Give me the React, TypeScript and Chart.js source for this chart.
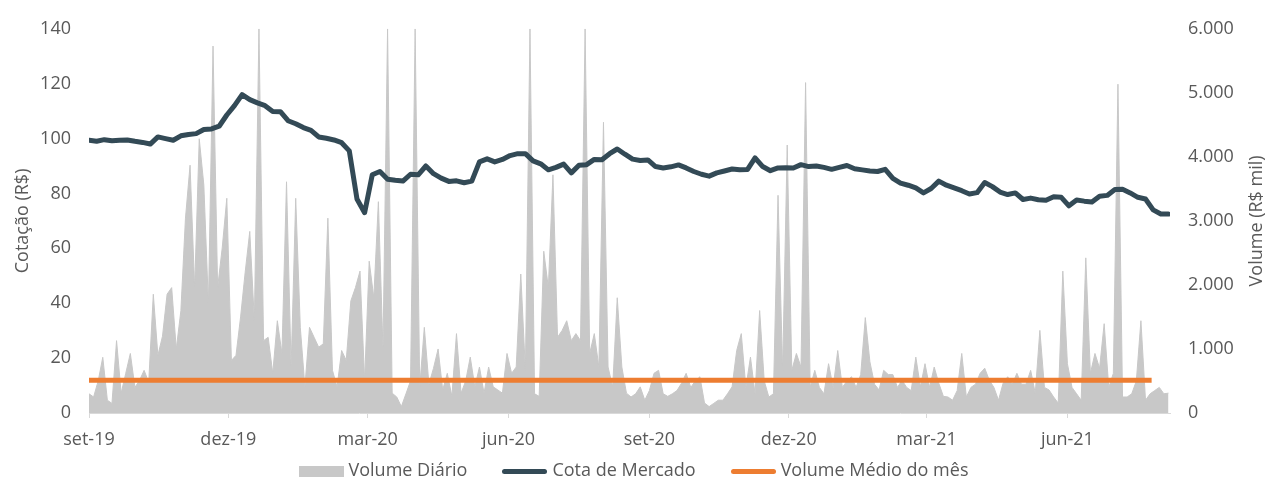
import React, { useEffect, useRef } from 'react';
import { Chart, registerables } from 'chart.js';

Chart.register(...registerables);

// ---------- DATA ----------
const START_UTC = Date.UTC(2019, 8, 1); // 1 set 2019
const DAY_MS = 86400000;

const TICK_MONTHS: [number, number][] = [
  [2019, 8], [2019, 11], [2020, 2], [2020, 5], [2020, 8], [2020, 11], [2021, 2], [2021, 5],
];
const TICK_LABELS = ['set-19', 'dez-19', 'mar-20', 'jun-20', 'set-20', 'dez-20', 'mar-21', 'jun-21'];

const LABEL_VOLUME = 'Volume Diário';
const LABEL_PRICE = 'Cota de Mercado';
const LABEL_AVG = 'Volume Médio do mês';

// Cotação (R$), one reading every 5 calendar days from 2 set 2019
const PRICE_STEP_DAYS = 5;
const PRICE = [
  99.4, 99.0, 99.6, 99.2, 99.4, 99.5, 99.0, 98.6, 98.0, 100.6,
  100.0, 99.4, 101.0, 101.5, 101.8, 103.3, 103.5, 104.5, 108.6, 112.0,
  116.0, 114.2, 113.0, 112.0, 109.9, 109.8, 106.5, 105.4, 104.0, 103.0,
  100.6, 100.1, 99.5, 98.5, 95.5, 78.0, 73.0, 86.8, 88.0, 85.2,
  84.8, 84.5, 87.0, 86.8, 90.0, 87.2, 85.6, 84.4, 84.6, 83.9,
  84.5, 91.5, 92.6, 91.5, 92.4, 93.8, 94.5, 94.5, 91.9, 90.8,
  88.6, 89.5, 90.7, 87.5, 90.3, 90.5, 92.4, 92.3, 94.5, 96.2,
  94.3, 92.5, 92.0, 92.2, 89.8, 89.3, 89.7, 90.4, 89.3, 88.0,
  87.0, 86.3, 87.5, 88.2, 88.9, 88.6, 88.7, 93.0, 89.8, 88.3,
  89.3, 89.4, 89.3, 90.5, 89.8, 90.0, 89.5, 88.8, 89.5, 90.2,
  89.0, 88.6, 88.2, 88.0, 88.8, 85.5, 83.8, 83.0, 82.0, 80.2,
  81.8, 84.5, 83.0, 82.0, 81.0, 79.8, 80.3, 84.0, 82.5, 80.5,
  79.6, 80.2, 77.8, 78.3, 77.7, 77.5, 78.8, 78.6, 75.5, 77.6,
  77.2, 76.9, 79.0, 79.3, 81.4, 81.5, 80.2, 78.6, 78.0, 74.0,
  72.5, 72.5,
];

// Volume diário (R$ mil), one reading every 3 calendar days from 2 set 2019
const VOLUME_STEP_DAYS = 3;
const VOLUME = [
  300, 250, 500, 870, 200, 150, 1130, 310, 620, 930,
  400, 510, 666, 480, 1855, 900, 1200, 1855, 1958, 1000,
  1596, 3043, 3870, 1958, 4283, 3560, 1700, 5730, 1958, 2578,
  3353, 821, 900, 1500, 2200, 2836, 1441, 6000, 1130, 1183,
  620, 1441, 930, 3611, 718, 3353, 1338, 408, 1338, 1183,
  1028, 1080, 3043, 666, 408, 976, 821, 1751, 1958, 2216,
  511, 2371, 1800, 3300, 1000, 6000, 310, 250, 100, 300,
  500, 6000, 408, 1338, 450, 700, 1000, 360, 620, 260,
  1240, 310, 500, 873, 408, 718, 310, 718, 408, 360,
  310, 930, 620, 718, 2170, 666, 6000, 300, 260, 2526,
  1958, 3720, 1183, 1290, 1441, 1130, 1240, 1130, 6000, 930,
  1240, 718, 4540, 718, 408, 1800, 718, 310,
  250, 300, 408, 200, 350, 620, 666, 300, 260, 300,
  350, 465, 620, 400, 500, 566, 155, 100, 150, 200,
  200, 300, 408, 976, 1240, 400, 873, 300, 1600, 500,
  250, 300, 3400, 666, 4185, 666, 930, 718, 5160, 400,
  666, 400, 300, 770, 400, 976, 400, 500, 566, 400,
  600, 1490, 800, 450, 360, 666, 600, 600, 400,
  511, 400, 350, 873, 408, 770, 400, 718, 465, 260,
  250, 200, 350, 930, 250, 400, 450, 620, 700, 511,
  400, 200, 465, 566, 450, 620, 450, 450, 666, 310,
  1290, 400, 360, 250, 155, 2216, 770, 400, 300, 200,
  2423, 620, 930, 700, 1395, 400, 620, 5135, 250, 250,
  300, 500, 1441, 200, 300, 350, 400, 300, 310,
];

// Volume médio do mês (R$ mil): start and end of the line
const AVG_VOLUME = [510, 510];
const AVG_VOLUME_DAYS = [0, 694];

const X_MAX_DAYS = 706;

// ---------- HELPERS ----------
const dayOf = (y: number, m: number) => Math.round((Date.UTC(y, m, 1) - START_UTC) / DAY_MS);
const TICK_DAYS = TICK_MONTHS.map(([y, m]) => dayOf(y, m));
const fmtThousands = (v: number) => {
  const s = Math.round(v).toString();
  return s.replace(/\B(?=(\d{3})+(?!\d))/g, '.');
};

const FONT = "'Open Sans', 'DejaVu Sans', sans-serif";
const TEXT = '#595959';
const GRAY = '#c8c8c8';
const DARK = '#334a56';
const ORANGE = '#ed7d31';

const axisTitles = {
  id: 'axisTitles',
  afterDraw(chart: any) {
    const { ctx, chartArea } = chart;
    const cy = (chartArea.top + chartArea.bottom) / 2;
    ctx.save();
    ctx.font = `18px ${FONT}`;
    ctx.fillStyle = TEXT;
    ctx.textAlign = 'center';
    ctx.textBaseline = 'alphabetic';
    ctx.translate(28, cy);
    ctx.rotate(-Math.PI / 2);
    ctx.fillText('Cotação (R$)', 0, 0);
    ctx.restore();
    ctx.save();
    ctx.font = `18px ${FONT}`;
    ctx.fillStyle = TEXT;
    ctx.textAlign = 'center';
    ctx.textBaseline = 'alphabetic';
    ctx.translate(1262, cy);
    ctx.rotate(-Math.PI / 2);
    ctx.fillText('Volume (R$ mil)', 0, 0);
    ctx.restore();
  },
};

export default function App() {
  const ref = useRef<HTMLCanvasElement | null>(null);

  useEffect(() => {
    if (!ref.current) return;
    Chart.defaults.font.family = FONT;
    Chart.defaults.font.size = 18;
    Chart.defaults.color = TEXT;

    const chart = new Chart(ref.current, {
      type: 'line',
      data: {
        datasets: [
          {
            label: LABEL_VOLUME,
            data: VOLUME.map((v, i) => ({ x: i * VOLUME_STEP_DAYS, y: v })),
            yAxisID: 'y1',
            fill: 'origin',
            backgroundColor: GRAY,
            borderColor: GRAY,
            borderWidth: 1,
            pointRadius: 0,
            tension: 0,
            order: 3,
          },
          {
            label: LABEL_PRICE,
            data: PRICE.map((v, i) => ({ x: i * PRICE_STEP_DAYS, y: v })),
            yAxisID: 'y',
            fill: false,
            borderColor: DARK,
            backgroundColor: DARK,
            borderWidth: 5,
            borderJoinStyle: 'round',
            borderCapStyle: 'round',
            pointRadius: 0,
            tension: 0,
            order: 1,
          },
          {
            label: LABEL_AVG,
            data: AVG_VOLUME.map((v, i) => ({ x: AVG_VOLUME_DAYS[i], y: v })),
            yAxisID: 'y1',
            fill: false,
            borderColor: ORANGE,
            backgroundColor: ORANGE,
            borderWidth: 5,
            pointRadius: 0,
            order: 2,
          },
        ] as any,
      },
      options: {
        responsive: false,
        animation: false,
        events: [],
        layout: { padding: { top: 26, left: 0, right: 0, bottom: 0 } },
        plugins: { legend: { display: false }, tooltip: { enabled: false } },
        scales: {
          x: {
            type: 'linear',
            min: 0,
            max: X_MAX_DAYS,
            afterBuildTicks: (s: any) => {
              s.ticks = TICK_DAYS.map((v) => ({ value: v }));
            },
            afterFit: (s: any) => {
              s.height = 68;
            },
            grid: {
              display: true,
              drawOnChartArea: false,
              drawTicks: true,
              tickLength: 5,
              color: '#d9d9d9',
            },
            border: { display: true, color: '#d9d9d9', width: 1 },
            ticks: {
              padding: 11,
              autoSkip: false,
              maxRotation: 0,
              color: TEXT,
              font: { size: 18, family: FONT },
              callback: (v: any) => {
                const i = TICK_DAYS.indexOf(Number(v));
                return i >= 0 ? TICK_LABELS[i] : '';
              },
            },
          },
          y: {
            position: 'left',
            min: 0,
            max: 140,
            afterFit: (s: any) => {
              s.width = 89;
            },
            grid: { display: false, drawTicks: false },
            border: { display: false },
            ticks: { stepSize: 20, padding: 18, color: TEXT, font: { size: 18, family: FONT } },
          },
          y1: {
            position: 'right',
            min: 0,
            max: 6000,
            afterFit: (s: any) => {
              s.width = 97;
            },
            grid: { display: false, drawTicks: false },
            border: { display: false },
            ticks: {
              stepSize: 1000,
              padding: 18,
              color: TEXT,
              font: { size: 18, family: FONT },
              callback: (v: any) => fmtThousands(Number(v)),
            },
          },
        },
      } as any,
      plugins: [axisTitles],
    });
    return () => chart.destroy();
  }, []);

  const legendItems = [
    { label: LABEL_VOLUME, kind: 'box', color: GRAY },
    { label: LABEL_PRICE, kind: 'line', color: DARK },
    { label: LABEL_AVG, kind: 'line', color: ORANGE },
  ];

  return (
    <div style={{ position: 'absolute', left: 0, top: 0, width: 1267, height: 481, background: '#fff' }}>
      <canvas ref={ref} width={1267} height={481} style={{ display: 'block', width: 1267, height: 481 }} />
      <div
        style={{
          position: 'absolute',
          left: 0,
          top: 460,
          width: 1267,
          display: 'flex',
          justifyContent: 'center',
          alignItems: 'center',
          fontFamily: FONT,
          fontSize: 18,
          lineHeight: '18px',
          color: TEXT,
          whiteSpace: 'nowrap',
        }}
      >
        {legendItems.map((it, i) => (
          <div key={it.label} style={{ display: 'flex', alignItems: 'center', marginLeft: i === 0 ? 0 : 35 }}>
            <span
              style={{
                display: 'inline-block',
                width: 45,
                height: it.kind === 'box' ? 11 : 5,
                background: it.color,
                borderRadius: it.kind === 'box' ? 0 : 3,
                marginRight: 5,
                position: 'relative',
                top: 2,
              }}
            />
            <span>{it.label}</span>
          </div>
        ))}
      </div>
    </div>
  );
}
